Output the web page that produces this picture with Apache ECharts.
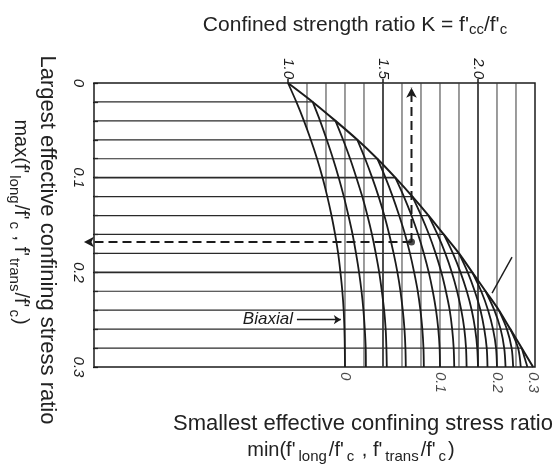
<!DOCTYPE html>
<html><head><meta charset="utf-8">
<script src="https://cdn.jsdelivr.net/npm/echarts@6/dist/echarts.min.js"></script>
<style>html,body{margin:0;padding:0;background:#fff}#c{width:555px;height:470px}</style>
</head><body><div id="c"></div>
<script>
// Largest effective confining stress ratio levels (left axis, downward)
const largestRatio = [0,0.02,0.04,0.06,0.08,0.10,0.12,0.14,0.16,0.18,0.20,0.22,0.24,0.26,0.28,0.30];
// Smallest effective confining stress ratio of each curve
const smallestRatio = [0,0.02,0.04,0.06,0.08,0.10,0.12,0.14,0.16,0.18,0.20,0.22,0.24,0.26,0.28];
// Confined strength ratio K, from largest = smallest down to largest = 0.30
const curveK = [
  [1.000,1.044,1.084,1.120,1.153,1.182,1.207,1.229,1.248,1.264,1.276,1.286,1.293,1.297,1.299,1.300],
  [1.130,1.169,1.204,1.237,1.267,1.294,1.318,1.340,1.358,1.374,1.387,1.397,1.404,1.409,1.410],
  [1.250,1.290,1.327,1.360,1.391,1.418,1.442,1.462,1.480,1.494,1.506,1.514,1.518,1.520],
  [1.365,1.406,1.443,1.477,1.507,1.533,1.556,1.576,1.592,1.604,1.613,1.618,1.620],
  [1.470,1.513,1.551,1.585,1.616,1.642,1.664,1.683,1.697,1.707,1.713,1.715],
  [1.565,1.610,1.650,1.685,1.715,1.741,1.762,1.779,1.791,1.798,1.800],
  [1.655,1.701,1.742,1.777,1.807,1.831,1.851,1.864,1.872,1.875],
  [1.740,1.787,1.828,1.862,1.890,1.912,1.928,1.937,1.940],
  [1.820,1.868,1.908,1.941,1.967,1.985,1.996,2.000],
  [1.900,1.946,1.983,2.013,2.033,2.046,2.050],
  [1.970,2.017,2.053,2.079,2.095,2.100],
  [2.040,2.086,2.119,2.138,2.145],
  [2.110,2.152,2.177,2.185],
  [2.170,2.211,2.225],
  [2.230,2.260]
];
const envelopeEndK = 2.29;           // equal triaxial confinement at 0.30
// Vertical K grid lines and the largest ratio where each meets the biaxial curve
const gridK   = [1.1,1.2,1.3,1.4,1.5,1.6,1.7,1.8,1.9,2.0,2.1,2.2];
const gridEnd = [0.049,0.114,0.3,0.3,0.3,0.3,0.3,0.3,0.3,0.3,0.3,0.3];
// Tick labels
const topTickLabels = [1.0,1.5,2.0];
const leftTickLabels = [0,0.1,0.2,0.3];
const bottomLabelText = ['0','0.1','0.2','0.3'];
const bottomLabelCurve = [0,5,10];   // curves carrying the 0, 0.1, 0.2 labels
// Worked example (dashed arrows)
const exampleK = 1.65, exampleL = 0.168;
const exampleArrowK = -0.074, exampleArrowL = 0.005;
// Biaxial pointer and right pointer
const biaxialArrow = [[1.047,0.25],[1.278,0.25]];
const rightPointer = [[2.179,0.184],[2.074,0.222]];

const XMIN = -0.021, XMAX = 2.3;
const INK = '#1b1b1b';
const FF = '"Liberation Sans", Arial, sans-serif';
const series = [];
function line(data, w, color, extra) {
  series.push(Object.assign({type:'line', data, symbol:'none', silent:true, animation:false,
    lineStyle:{width:w, color}, z:2}, extra || {}));
}
for (let i = 1; i < curveK.length; i++) {
  line([[XMIN, largestRatio[i]], [curveK[i][0], largestRatio[i]]], (i===5||i===10)?1.6:1.2, '#2a2a2a');
}
gridK.forEach((k, j) => line([[k,0],[k,gridEnd[j]]], (k===1.5||k===2.0)?1.8:1.0, '#3a3a3a'));
curveK.forEach((ks, i) => line(ks.map((k, j) => [k, largestRatio[i+j]]), 1.8, INK, {smooth:0.3, z:3}));
line(curveK.map((ks, i) => [ks[0], largestRatio[i]]).concat([[envelopeEndK, 0.3]]), 2, INK, {smooth:0.3, z:3});

const bottomK = bottomLabelCurve.map(i => curveK[i][curveK[i].length-1]).concat([envelopeEndK]);
series.push({type:'scatter', silent:true, animation:false, symbolSize:0,
  data: bottomK.map((k, i) => [k, 0.3, bottomLabelText[i]]),
  label:{show:true, position:'bottom', distance:5, rotate:-90, align:'left', verticalAlign:'middle',
    formatter:p => p.data[2], fontStyle:'italic', fontSize:15, color:INK, fontFamily:FF}});

// dashed example arrows (line series, unclipped so the left arrow passes the axis)
const dashStyle = {type:[9,5], width:2, color:INK};
line([[exampleK, exampleL], {value:[exampleArrowK, exampleL], symbol:'arrow', symbolSize:[8,10], symbolRotate:90}],
  2, INK, {clip:false, z:5, lineStyle:dashStyle, itemStyle:{color:INK}, showSymbol:true, showAllSymbol:true});
line([[exampleK, exampleL], {value:[exampleK, exampleArrowL], symbol:'arrow', symbolSize:[8,10], symbolRotate:0}],
  2, INK, {clip:false, z:5, lineStyle:dashStyle, itemStyle:{color:INK}, showSymbol:true, showAllSymbol:true});
series.push({type:'scatter', silent:true, animation:false, z:6,
  data:[[exampleK, exampleL]], symbol:'circle', symbolSize:7, itemStyle:{color:INK}});

series.push({type:'line', silent:true, animation:false, clip:false, data:[], z:5,
  markLine:{silent:true, animation:false, symbol:['none','arrow'], symbolSize:7,
    lineStyle:{type:'solid', width:1.4, color:INK},
    label:{show:true, position:'start', formatter:'Biaxial', fontStyle:'italic', fontSize:17, color:INK, fontFamily:FF, distance:4},
    data:[[{coord:biaxialArrow[0]}, {coord:biaxialArrow[1]}]]}});

series.push({type:'line', silent:true, animation:false, clip:false, data:[], z:5,
  markLine:{silent:true, animation:false, symbol:['none','none'],
    lineStyle:{type:'solid', width:1.4, color:INK}, label:{show:false},
    data:[[{coord:rightPointer[0]}, {coord:rightPointer[1]}]]}});

const subRich = pad => ({a:{fontSize:20, fontFamily:FF, fill:'#222', verticalAlign:'bottom', padding:[0,0,4,0]},
                 s:{fontSize:15, fontFamily:FF, fill:'#222', verticalAlign:'bottom', padding:[0,pad,0,pad+1]}});
const ratioText = fn => "{a|" + fn + "(f'}{s|long}{a|/f'}{s|c}{a| , f'}{s|trans}{a|/f'}{s|c}{a|)}";

const chart = echarts.init(document.getElementById('c'), null, {renderer:'canvas'});
chart.setOption({
  animation:false,
  backgroundColor:'#fff',
  textStyle:{fontFamily:FF},
  grid:{left:94, right:20, top:83, bottom:103, show:true, borderColor:INK, borderWidth:1.5, backgroundColor:'transparent'},
  xAxis:{type:'value', position:'top', min:XMIN, max:XMAX, splitLine:{show:false}, axisLine:{show:false},
    axisTick:{show:true, customValues:topTickLabels, length:4, lineStyle:{color:INK, width:1.5}},
    axisLabel:{customValues:topTickLabels, formatter:v => v.toFixed(1), rotate:-90, fontStyle:'italic',
      fontSize:15, color:INK, margin:4, fontFamily:FF}},
  yAxis:{type:'value', inverse:true, min:0, max:0.3, splitLine:{show:false}, axisLine:{show:false},
    axisTick:{show:true, customValues:largestRatio, length:5, lineStyle:{color:INK, width:1.3}},
    axisLabel:{customValues:leftTickLabels, formatter:v => v === 0 ? '0' : v.toFixed(1), rotate:-90,
      fontStyle:'italic', fontSize:15, color:INK, margin:8, fontFamily:FF}},
  series,
  graphic:[
    {type:'text', x:355, y:26, silent:true, style:{
      text:"{a|Confined strength ratio K = f'}{s|cc}{a|/f'}{s|c}", align:'center', verticalAlign:'middle',
      rich:{a:{fontSize:21, fontFamily:FF, fill:'#222', verticalAlign:'bottom', padding:[0,0,2,0]},
            s:{fontSize:15, fontFamily:FF, fill:'#222', verticalAlign:'bottom'}}}},
    {type:'text', x:173, y:424, silent:true, style:{
      text:'Smallest effective confining stress ratio', align:'left', verticalAlign:'middle',
      fontSize:22, fontFamily:FF, fill:'#222'}},
    {type:'text', x:351, y:452, silent:true, style:{
      text:ratioText('min'), align:'center', verticalAlign:'middle', rich:subRich(2)}},
    {type:'text', x:47, y:240, rotation:-Math.PI/2, silent:true, style:{
      text:'Largest effective confining stress ratio', align:'center', verticalAlign:'middle',
      fontSize:22, fontFamily:FF, fill:'#222'}},
    {type:'text', x:19, y:222, rotation:-Math.PI/2, silent:true, style:{
      text:ratioText('max'), align:'center', verticalAlign:'middle', rich:subRich(1)}}
  ]
});
</script></body></html>
